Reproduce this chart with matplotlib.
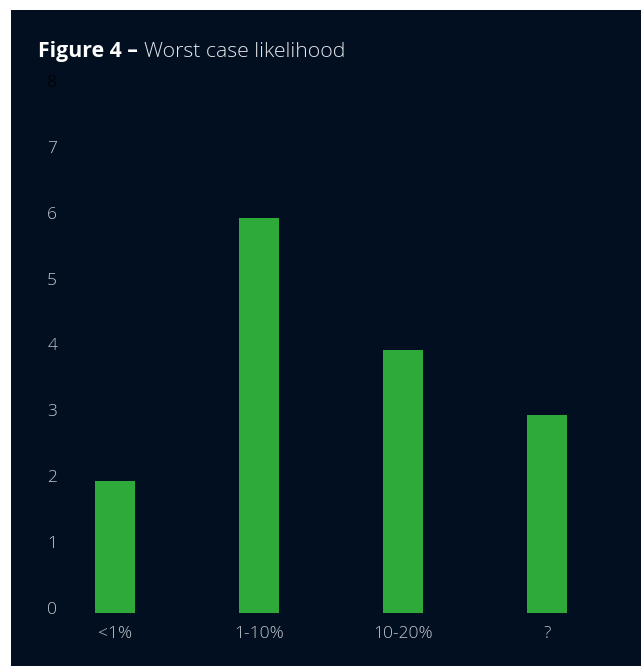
import matplotlib

matplotlib.use("Agg")
import matplotlib.pyplot as plt
from matplotlib.patches import Rectangle
from matplotlib.transforms import ScaledTranslation

CATEGORIES = ["<1%", "1-10%", "10-20%", "?"]
COUNTS = [2, 6, 4, 3]
Y_TICKS = [0, 1, 2, 3, 4, 5, 6, 7, 8]

NAVY = "#020f21"
GREEN = "#2eaa3a"
LABEL = "#c3c7cd"

W, H = 644, 666
plt.rcParams["font.family"] = ["Open Sans", "DejaVu Sans"]

fig = plt.figure(figsize=(W / 100, H / 100), dpi=100, facecolor="white")
fig.patches.append(Rectangle((11 / W, 0), 630 / W, 656 / H, transform=fig.transFigure,
                             facecolor=NAVY, edgecolor="none", zorder=-5))

# axes box in pixels: left 64, right 619, bottom 613, top 86
ax = fig.add_axes([64 / W, (H - 613) / H, (619 - 64) / W, (613 - 86) / H])
ax.set_facecolor("none")
ax.set_zorder(2)
ax.bar(range(len(CATEGORIES)), COUNTS, width=0.28, color=GREEN)
ax.set_xlim(-0.354, 3.5)
ax.set_ylim(0, 8)
ax.set_xticks(range(len(CATEGORIES)), CATEGORIES)
ax.set_yticks(Y_TICKS)
for side in ax.spines.values():
    side.set_visible(False)
ax.tick_params(length=0, colors=LABEL, labelsize=12.5)
ax.tick_params(axis="y", pad=5)
ax.tick_params(axis="x", pad=9.5)
shift = ScaledTranslation(0, 5 / 100, fig.dpi_scale_trans)
for lab in ax.get_yticklabels():
    lab.set_fontweight("light")
    lab.set_transform(lab.get_transform() + shift)
for lab in ax.get_xticklabels():
    lab.set_fontweight("light")
# top tick label is drawn nearly invisible in the original
ax.get_yticklabels()[-1].set_color("#000000")

bold = fig.text(38 / W, (H - 57) / H, "Figure 4 \u2013", color="white",
                fontsize=15.3, fontweight="bold", va="baseline", zorder=3)
fig.canvas.draw()
bb = bold.get_window_extent()
fig.text((bb.x1 + 6) / W, (H - 57) / H, "Worst case likelihood", color="#e6e8eb",
         fontsize=15.3, fontweight="light", va="baseline", zorder=3)

fig.savefig("out.png", dpi=100, facecolor="white")
